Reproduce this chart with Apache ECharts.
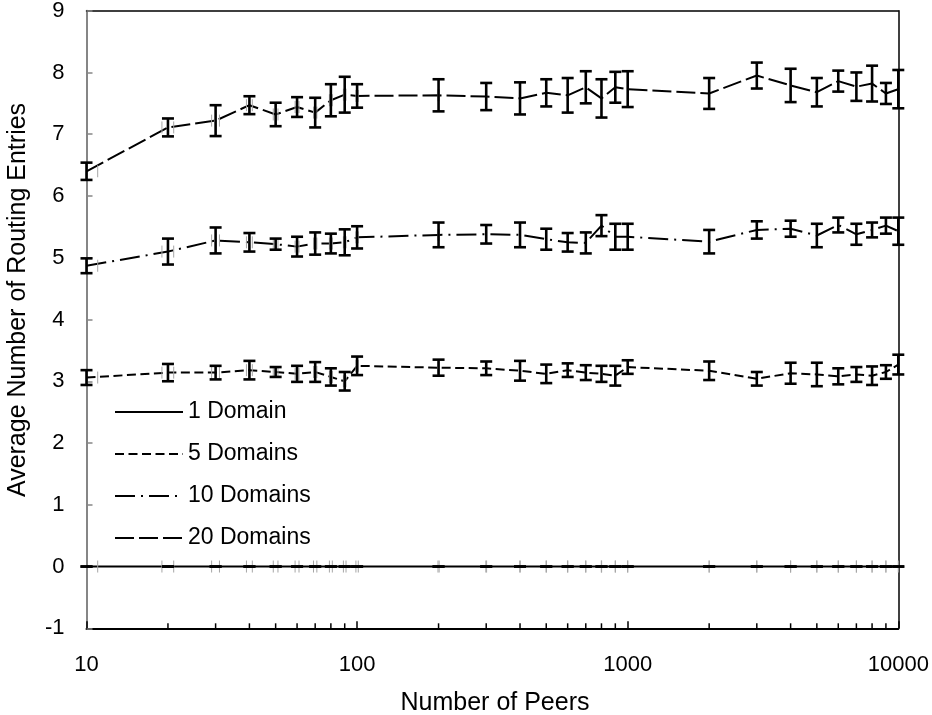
<!DOCTYPE html>
<html><head><meta charset="utf-8">
<script src="https://cdn.jsdelivr.net/npm/echarts@6/dist/echarts.min.js"></script>
<style>html,body{margin:0;padding:0;background:#fff}#c{width:932px;height:715px}</style>
</head><body><div id="c"></div>
<script>
const peers = [10,20,30,40,50,60,70,80,90,100,200,300,400,500,600,700,800,900,1000,2000,3000,4000,5000,6000,7000,8000,9000,10000];
const seriesNames = ['1 Domain','5 Domains','10 Domains','20 Domains'];
const d1 = [0,0,0,0,0,0,0,0,0,0,0,0,0,0,0,0,0,0,0,0,0,0,0,0,0,0,0,0];
const d1Err = [0,0,0,0,0,0,0,0,0,0,0,0,0,0,0,0,0,0,0,0,0,0,0,0,0,0,0,0];
const d5 = [3.06,3.14,3.14,3.18,3.15,3.12,3.15,3.07,3.00,3.25,3.22,3.21,3.17,3.12,3.18,3.14,3.12,3.09,3.23,3.17,3.04,3.13,3.11,3.08,3.11,3.09,3.15,3.27];
const d5Err = [0.12,0.14,0.11,0.15,0.08,0.13,0.16,0.14,0.15,0.15,0.13,0.11,0.16,0.15,0.11,0.12,0.13,0.16,0.11,0.15,0.11,0.17,0.19,0.13,0.12,0.15,0.11,0.16];
const d10 = [4.87,5.10,5.28,5.25,5.22,5.18,5.23,5.23,5.25,5.33,5.37,5.38,5.37,5.30,5.25,5.24,5.52,5.34,5.34,5.26,5.45,5.47,5.36,5.53,5.38,5.45,5.52,5.43];
const d10Err = [0.12,0.21,0.21,0.15,0.09,0.16,0.18,0.16,0.21,0.18,0.20,0.15,0.20,0.17,0.15,0.17,0.17,0.21,0.21,0.19,0.14,0.13,0.19,0.12,0.17,0.12,0.13,0.22];
const d20 = [6.40,7.11,7.22,7.47,7.32,7.44,7.35,7.55,7.64,7.62,7.63,7.61,7.58,7.67,7.63,7.76,7.58,7.76,7.73,7.66,7.95,7.79,7.68,7.86,7.77,7.82,7.66,7.73];
const d20Err = [0.14,0.145,0.25,0.145,0.19,0.16,0.24,0.26,0.29,0.19,0.26,0.22,0.26,0.22,0.28,0.26,0.31,0.25,0.29,0.25,0.21,0.27,0.23,0.17,0.23,0.29,0.17,0.31];
const xErr = 1;
const xMin = 10, xMax = 10000;
const yMin = -1, yMax = 9;
const xTickLabels = ['10','100','1000','10000'];
const minorTicks = [20,30,40,50,60,70,80,90,200,300,400,500,600,700,800,900,2000,3000,4000,5000,6000,7000,8000,9000];
const xTitle = 'Number of Peers';
const yTitle = 'Average Number of Routing Entries';

const FONT = 'Liberation Sans, Arial, sans-serif';
const values = [d1, d5, d10, d20];
const errs = [d1Err, d5Err, d10Err, d20Err];
const dashes = ['solid', [9, 4.5], [20, 6, 2, 6], [19, 5]];

function errRender(params, api) {
  const x = api.value(0), v = api.value(1), e = api.value(2);
  const top = api.coord([x, v + e]);
  const bot = api.coord([x, v - e]);
  const c = api.coord([x, v]);
  const ch = [];
  const gray = {stroke: '#a6a6a6', lineWidth: 1};
  if (x - xErr >= xMin) {
    const l = api.coord([x - xErr, v]);
    ch.push({type: 'line', shape: {x1: l[0], y1: c[1] - 6, x2: l[0], y2: c[1] + 6}, style: gray});
  }
  if (x + xErr <= xMax) {
    const r = api.coord([x + xErr, v]);
    ch.push({type: 'line', shape: {x1: r[0], y1: c[1] - 6, x2: r[0], y2: c[1] + 6}, style: gray});
  }
  const blk = {stroke: '#000', lineWidth: 2.6};
  ch.push({type: 'line', shape: {x1: top[0], y1: top[1], x2: bot[0], y2: bot[1]}, style: blk});
  ch.push({type: 'line', shape: {x1: top[0] - 6, y1: top[1], x2: top[0] + 6, y2: top[1]}, style: blk});
  ch.push({type: 'line', shape: {x1: bot[0] - 6, y1: bot[1], x2: bot[0] + 6, y2: bot[1]}, style: blk});
  return {type: 'group', children: ch};
}

function minorRender(params, api) {
  const p = api.coord([api.value(0), yMin]);
  return {type: 'line', shape: {x1: p[0], y1: p[1], x2: p[0], y2: p[1] - 5}, style: {stroke: '#000', lineWidth: 1.5}};
}

const series = [];
seriesNames.forEach((name, i) => {
  series.push({
    type: 'line', name: name, xAxisIndex: 0, yAxisIndex: 0,
    data: peers.map((p, k) => [p, values[i][k]]),
    symbol: 'none', z: 3,
    lineStyle: {color: '#000', width: 2, type: dashes[i]},
    itemStyle: {color: '#000'}
  });
});
seriesNames.forEach((name, i) => {
  series.push({
    type: 'custom', name: name + ' error', xAxisIndex: 0, yAxisIndex: 0,
    data: peers.map((p, k) => [p, values[i][k], errs[i][k]]),
    renderItem: errRender, clip: false, z: 4, silent: true
  });
});
series.push({
  type: 'custom', name: 'minor ticks', xAxisIndex: 0, yAxisIndex: 0,
  data: minorTicks.map(v => [v]), renderItem: minorRender, clip: false, z: 5, silent: true
});

const chart = echarts.init(document.getElementById('c'), null, {renderer: 'canvas'});
chart.setOption({
  animation: false,
  backgroundColor: '#fff',
  textStyle: {fontFamily: FONT},
  grid: {left: 86.5, right: 33.7, top: 10.7, bottom: 86.7, containLabel: false, outerBoundsMode: 'none'},
  xAxis: [{
    type: 'log', logBase: 10, min: xMin, max: xMax, position: 'bottom',
    axisLine: {onZero: false, lineStyle: {color: '#000', width: 2}},
    axisTick: {inside: true, length: 7, lineStyle: {color: '#000', width: 1.5}},
    minorTick: {show: false},
    splitLine: {show: false},
    axisLabel: {color: '#000', fontSize: 22, fontFamily: FONT, margin: 26,
      formatter: v => { const i = Math.round(Math.log10(v)) - 1; return xTickLabels[i] !== undefined ? xTickLabels[i] : ''; }}
  }, {
    type: 'log', logBase: 10, min: xMin, max: xMax, position: 'top',
    axisLine: {onZero: false, lineStyle: {color: '#000', width: 1.5}},
    axisTick: {show: false}, axisLabel: {show: false}, splitLine: {show: false}
  }],
  yAxis: [{
    type: 'value', min: yMin, max: yMax, interval: 1, position: 'left',
    axisLine: {show: true, onZero: false, lineStyle: {color: '#868686', width: 2}},
    axisTick: {show: true, inside: true, length: 6, lineStyle: {color: '#868686', width: 1.5}},
    splitLine: {show: false},
    axisLabel: {color: '#000', fontSize: 22, fontFamily: FONT, margin: 22}
  }, {
    type: 'value', min: yMin, max: yMax, interval: 1, position: 'right',
    axisLine: {show: true, onZero: false, lineStyle: {color: '#000', width: 1.5}},
    axisTick: {show: false}, axisLabel: {show: false}, splitLine: {show: false}
  }],
  legend: {
    show: true, orient: 'vertical', left: 114, top: 400.5, padding: 0,
    data: seriesNames, itemWidth: 68, itemHeight: 22, itemGap: 19,
    selectedMode: false,
    itemStyle: {opacity: 0},
    textStyle: {color: '#000', fontSize: 23, fontFamily: FONT, lineHeight: 22}
  },
  graphic: [
    {type: 'text', x: 18, y: 300, rotation: Math.PI / 2,
     style: {text: yTitle, font: '25px ' + FONT, fill: '#000', align: 'center', verticalAlign: 'middle', textAlign: 'center', textVerticalAlign: 'middle'}},
    {type: 'text', x: 495, y: 703,
     style: {text: xTitle, font: '25px ' + FONT, fill: '#000', align: 'center', verticalAlign: 'middle', textAlign: 'center', textVerticalAlign: 'middle'}}
  ],
  series: series
});
</script>
</body></html>
